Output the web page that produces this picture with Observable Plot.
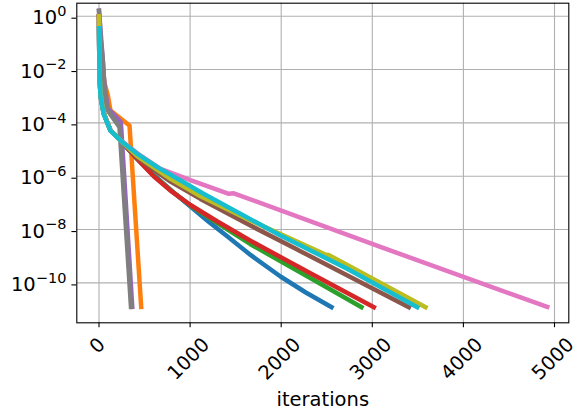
<!DOCTYPE html>
<html><head><meta charset="utf-8">
<script src="https://cdn.jsdelivr.net/npm/d3@7"></script>
<script src="https://cdn.jsdelivr.net/npm/@observablehq/plot@0.6"></script>
<style>html,body{margin:0;padding:0;background:#fff} svg{display:block}</style>
</head><body><div id="chart"></div>
<script>
// ---- data ----
const seriesNames = ["C0","C1","C2","C3","C4","C5","C6","C7","C8","C9"];
const seriesColors = ["#1f77b4","#ff7f0e","#2ca02c","#d62728","#9467bd","#8c564b","#e377c2","#7f7f7f","#bcbd22","#17becf"];

const iterC0 = [0, 4, 16, 52, 125, 235, 420, 560, 700, 850, 1004, 1200, 1407, 1663, 1992, 2270, 2552];
const valC0  = [1, 1.2e-2, 1.1e-3, 2.3e-4, 5.3e-5, 2.2e-5, 4.47e-6, 1.51e-6, 5.62e-7, 2.0e-7, 7.24e-8, 2.0e-8, 5.62e-9, 1.12e-9, 1.74e-10, 4.37e-11, 1.23e-11];

const iterC1 = [0, 30, 60, 97, 126, 335, 463];
const valC1  = [1, 1.58e-2, 3.16e-3, 1.07e-3, 2.88e-4, 7.94e-5, 1.26e-11];

const iterC2 = [0, 4, 16, 52, 125, 235, 420, 600, 800, 1004, 1300, 1663, 2300, 2881];
const valC2  = [1, 1.2e-2, 1.1e-3, 2.3e-4, 5.3e-5, 2.2e-5, 4.47e-6, 1.05e-6, 2.75e-7, 7.94e-8, 1.74e-8, 2.82e-9, 1.66e-10, 1.23e-11];

const iterC3 = [0, 4, 16, 52, 125, 235, 420, 600, 800, 1004, 1300, 1663, 2300, 3017];
const valC3  = [1, 1.2e-2, 1.1e-3, 2.3e-4, 5.3e-5, 2.2e-5, 4.47e-6, 1e-6, 2.63e-7, 8.32e-8, 2e-8, 3.8e-9, 2.51e-10, 1.23e-11];

const iterC4 = [0, 42, 60, 97, 240, 365];
const valC4  = [1.6, 2.19e-2, 2.5e-3, 3.55e-4, 1.07e-4, 1.26e-11];

const iterC5 = [0, 4, 16, 52, 125, 235, 420, 785, 1114, 1663, 2176, 2200, 3401];
const valC5  = [1, 1.2e-2, 1.1e-3, 2.3e-4, 5.3e-5, 2.2e-5, 5.01e-6, 6.31e-7, 1.41e-7, 1.41e-8, 1.78e-9, 1.62e-9, 1.23e-11];

const iterC6 = [0, 4, 16, 52, 125, 235, 420, 675, 1004, 1425, 1480, 3096, 4920];
const valC6  = [1, 1.2e-2, 1.1e-3, 2.3e-4, 5.3e-5, 2.3e-5, 7.2e-6, 1.9e-6, 7.1e-7, 2.19e-7, 2.29e-7, 2.19e-9, 1.26e-11];

const iterC7 = [0, 20, 42, 60, 79, 97, 225, 351];
const valC7  = [1.6, 1.26e-1, 2.19e-2, 2.19e-3, 5.37e-4, 2.88e-4, 6.92e-5, 1.26e-11];

const iterC8 = [0, 4, 16, 52, 125, 235, 420, 785, 1114, 1663, 2480, 2520, 3584];
const valC8  = [1, 1.2e-2, 1.1e-3, 2.3e-4, 5.3e-5, 2.2e-5, 5.62e-6, 7.94e-7, 1.78e-7, 2.19e-8, 1.17e-9, 1.12e-9, 1.23e-11];

const iterC9 = [0, 4, 16, 50, 125, 235, 420, 640, 895, 1147, 1992, 2724, 3493];
const valC9  = [0.355, 1.26e-2, 1e-3, 2.19e-4, 5.13e-5, 2.19e-5, 6.92e-6, 2.19e-6, 6.92e-7, 2.19e-7, 6.03e-9, 3.39e-10, 1.23e-11];

const xTicks = [0, 1000, 2000, 3000, 4000, 5000];
const yTicks = [1, 1e-2, 1e-4, 1e-6, 1e-8, 1e-10];
const yTickExponents = ["0", "\u22122", "\u22124", "\u22126", "\u22128", "\u221210"];
const xLabel = "iterations";

// ---- build table ----
const iters = [iterC0, iterC1, iterC2, iterC3, iterC4, iterC5, iterC6, iterC7, iterC8, iterC9];
const vals  = [valC0, valC1, valC2, valC3, valC4, valC5, valC6, valC7, valC8, valC9];
const rows = [];
seriesNames.forEach((s, i) => iters[i].forEach((x, j) => rows.push({series: s, x, y: vals[i][j]})));

// ---- layout ----
const W = 575, H = 419;
const frameL = 76.3, frameR = 568.3, frameT = 2.7, frameB = 322.3;
const fs = 19.5;
const font = "DejaVu Sans";
const gridStyle = {stroke: "#b0b0b0", strokeOpacity: 1, strokeWidth: 1.1};

const xLabelMarks = xTicks.map(t => {
  const s = String(t);
  const half = ((s.length - 1) * 0.636 * fs + 0.52 * fs + 0.729 * fs) * 0.3535;
  return Plot.text([t], {x: d => d, frameAnchor: "bottom", dx: -1.5, dy: 14.4 + half, rotate: -45,
    text: d => String(d), fontSize: fs, textAnchor: "middle", lineAnchor: "middle", fill: "black"});
});

const chart = Plot.plot({
  width: W, height: H,
  marginLeft: frameL, marginRight: W - frameR, marginTop: frameT, marginBottom: H - frameB,
  style: {fontFamily: font, fontSize: fs + "px", background: "white", color: "black", overflow: "visible"},
  x: {domain: [-243.7, 5157]},
  y: {type: "log", domain: [Math.pow(10, -11.496), Math.pow(10, 0.4874)]},
  color: {domain: seriesNames, range: seriesColors},
  marks: [
    Plot.gridX(xTicks, gridStyle),
    Plot.gridY(yTicks, gridStyle),
    Plot.line(rows, {x: "x", y: "y", z: "series", stroke: "series", strokeWidth: 4.5,
      strokeLinecap: "square", strokeLinejoin: "round"}),
    Plot.frame({stroke: "black", strokeWidth: 1.1}),
    Plot.axisX({ticks: xTicks, tickSize: 4.9, tickFormat: () => "", label: null, strokeWidth: 1.1}),
    ...xLabelMarks,
    Plot.axisY({ticks: yTicks, tickSize: 4.9, tickPadding: 5.5, fontSize: fs, dy: 2,
      tickFormat: d => yTickExponents[yTicks.indexOf(d)], label: null, strokeWidth: 1.1}),
    Plot.text([xLabel], {frameAnchor: "bottom", dy: 83, fontSize: fs, textAnchor: "middle", fill: "black"})
  ]
});

// superscript exponents on the y tick labels (10^n)
const ns = "http://www.w3.org/2000/svg";
chart.querySelectorAll('[aria-label="y-axis tick label"] text').forEach(t => {
  const e = t.textContent;
  t.textContent = "";
  const base = document.createElementNS(ns, "tspan");
  base.textContent = "10";
  const sup = document.createElementNS(ns, "tspan");
  sup.textContent = e;
  sup.setAttribute("dy", "-8.5");
  sup.setAttribute("font-size", "14.5");
  t.append(base, sup);
});

document.getElementById("chart").append(chart);
</script>
</body></html>
